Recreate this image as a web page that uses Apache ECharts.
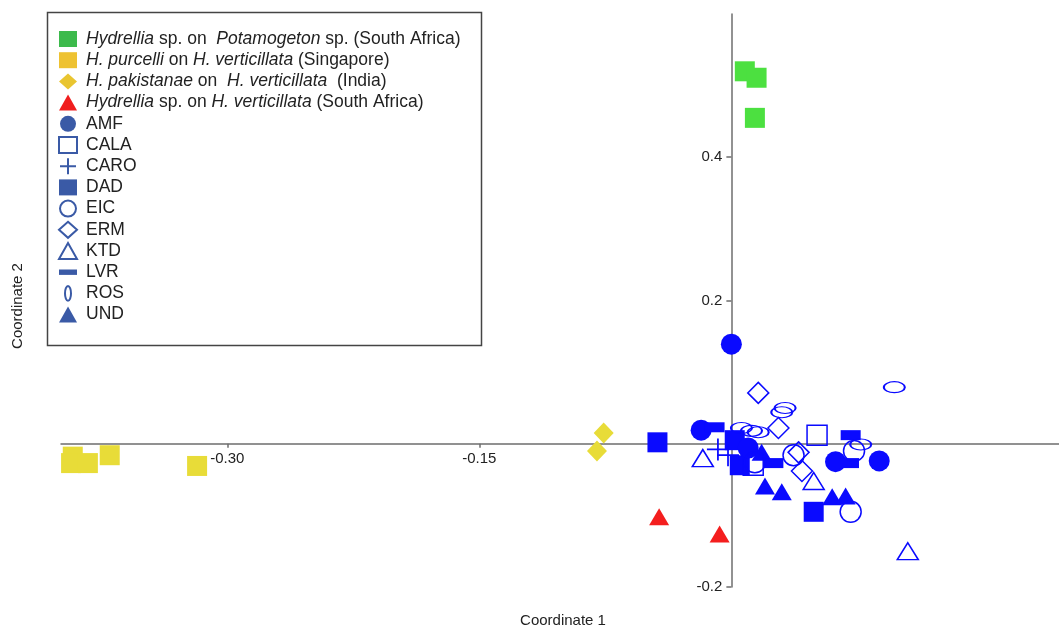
<!DOCTYPE html>
<html>
<head>
<meta charset="utf-8">
<script src="https://cdn.jsdelivr.net/npm/echarts@6/dist/echarts.min.js"></script>
<style>
html,body{margin:0;padding:0;background:#fff;}
#chart{width:1059px;height:629px;}
</style>
</head>
<body>
<div id="chart"></div>
<script>
// ---- data (Coordinate 1, Coordinate 2) ----
const greenPotamogeton = [[0.008,0.520],[0.015,0.511],[0.014,0.455]];
const yellowPurcelli = [[-0.392,-0.018],[-0.393,-0.027],[-0.383,-0.027],[-0.370,-0.016],[-0.318,-0.031]];
const yellowPakistanae = [[-0.076,0.015],[-0.080,-0.010]];
const redSouthAfrica = [[-0.043,-0.102],[-0.007,-0.126]];
const AMF = [[0.000,0.139],[-0.018,0.019],[0.062,-0.025],[0.088,-0.024],[0.010,-0.006]];
const CALA = [[0.051,0.012],[0.013,-0.030]];
const CARO = [[-0.008,-0.008],[-0.002,-0.016]];
const DAD = [[-0.044,0.002],[0.049,-0.095],[0.002,0.005],[0.005,-0.030]];
const EIC = [[0.073,-0.010],[0.037,-0.016],[0.071,-0.095],[0.014,-0.026]];
const ERM = [[0.016,0.071],[0.028,0.022],[0.040,-0.012],[0.042,-0.038]];
const KTD = [[-0.017,-0.020],[0.049,-0.052],[0.105,-0.150]];
const LVR = [[-0.010,0.023],[0.025,-0.027],[0.071,0.012],[0.070,-0.027]];
const ROS = [[0.097,0.079],[0.032,0.050],[0.030,0.044],[0.077,-0.001],[0.006,0.022],[0.012,0.018],[0.016,0.016]];
const UND = [[0.020,-0.059],[0.030,-0.067],[0.060,-0.074],[0.068,-0.073],[0.018,-0.012]];
const xTickValues = [-0.30, -0.15];
const yTickValues = [-0.2, 0.2, 0.4];
const xAxisTitle = 'Coordinate 1';
const yAxisTitle = 'Coordinate 2';

const N1 = 'Hydrellia sp. on Potamogeton sp. (South Africa)';
const N2 = 'H. purcelli on H. verticillata (Singapore)';
const N3 = 'H. pakistanae on H. verticillata (India)';
const N4 = 'Hydrellia sp. on H. verticillata (South Africa)';
const legendRich = {};
legendRich[N1] = '{i|Hydrellia} sp. on  {i|Potamogeton} sp. (South Africa)';
legendRich[N2] = '{i|H. purcelli} on {i|H. verticillata} (Singapore)';
legendRich[N3] = '{i|H. pakistanae} on  {i|H. verticillata}  (India)';
legendRich[N4] = '{i|Hydrellia} sp. on {i|H. verticillata} (South Africa)';

const FONT = "'Liberation Sans', Arial, sans-serif";
const BLUE = '#0a0aff';
const LBLUE = '#3a5aa6';
const PLUS = 'path://M9.2,0h1.6v9.2h9.2v1.6h-9.2v9.2h-1.6v-9.2h-9.2v-1.6h9.2z';
const ELLIPSE_H = 'path://M0,5a10,5 0 1,0 20,0a10,5 0 1,0 -20,0z';
const LEG_PLUS = 'path://M0,0M16,16M7,0h2v7h7v2h-7v7h-2v-7h-7v-2h7z';
const LEG_BAR = 'path://M0,0M20,16M0,5h20v6h-20z';
const LEG_ELL = 'path://M0,0M18,16M6,8a3,7.3 0 1,0 6,0a3,7.3 0 1,0 -6,0z';

const hollow = {color: 'transparent', borderColor: BLUE, borderWidth: 1.5, opacity: 1};
const legHollow = {color: 'transparent', borderColor: LBLUE, borderWidth: 2};
const legFilled = {color: LBLUE, borderWidth: 0};

function sc(name, data, symbol, size, itemStyle, z) {
  return {type: 'scatter', name: name, data: data, symbol: symbol, symbolSize: size,
          itemStyle: Object.assign({opacity: 1}, itemStyle), z: z || 2,
          emphasis: {disabled: true}, animation: false};
}

const series = [
  sc(N1, greenPotamogeton, 'rect', 20, {color: '#4ce040'}),
  sc(N2, yellowPurcelli, 'rect', 20, {color: '#e8dc38'}),
  sc(N3, yellowPakistanae, 'diamond', [20, 21], {color: '#e8dc38'}),
  sc(N4, redSouthAfrica, 'triangle', [20, 17], {color: '#f41e1e'}),
  sc('DAD', DAD, 'rect', 20, {color: BLUE}),
  sc('AMF', AMF, 'circle', 21, {color: BLUE}),
  sc('UND', UND, 'triangle', [20, 17], {color: BLUE}),
  sc('LVR', LVR, 'rect', [20, 10], {color: BLUE}),
  sc('CARO', CARO, PLUS, 22, {color: BLUE}),
  sc('CALA', CALA, 'rect', 20, hollow, 3),
  sc('EIC', EIC, 'circle', 21, hollow, 3),
  sc('ERM', ERM, 'diamond', 21, hollow, 3),
  sc('KTD', KTD, 'triangle', [21, 17], hollow, 3),
  sc('ROS', ROS, ELLIPSE_H, [21, 11], hollow, 3)
];

const legendData = [
  {name: N1, icon: 'rect', itemStyle: {color: '#3cba4c', borderWidth: 0}},
  {name: N2, icon: 'rect', itemStyle: {color: '#eec232', borderWidth: 0}},
  {name: N3, icon: 'diamond', itemStyle: {color: '#e9c530', borderWidth: 0}},
  {name: N4, icon: 'triangle', itemStyle: {color: '#f01e1e', borderWidth: 0}},
  {name: 'AMF', icon: 'circle', itemStyle: legFilled},
  {name: 'CALA', icon: 'rect', itemStyle: legHollow},
  {name: 'CARO', icon: LEG_PLUS, itemStyle: legFilled},
  {name: 'DAD', icon: 'rect', itemStyle: legFilled},
  {name: 'EIC', icon: 'circle', itemStyle: legHollow},
  {name: 'ERM', icon: 'diamond', itemStyle: legHollow},
  {name: 'KTD', icon: 'triangle', itemStyle: legHollow},
  {name: 'LVR', icon: LEG_BAR, itemStyle: legFilled},
  {name: 'ROS', icon: LEG_ELL, itemStyle: legHollow},
  {name: 'UND', icon: 'triangle', itemStyle: legFilled}
];

// grid geometry (pixels) and axis ranges
const GL = 61, GT = 14, GW = 998, GH = 573;
const XMIN = -0.399, XMAX = 0.195, YMIN = -0.2, YMAX = 0.6;
const xZeroOffset = GW * (0 - XMIN) / (XMAX - XMIN);   // distance of x=0 from left edge
const yZeroOffset = GH * (0 - YMIN) / (YMAX - YMIN);   // distance of y=0 from bottom edge

const chart = echarts.init(document.getElementById('chart'), null, {renderer: 'canvas'});
chart.setOption({
  animation: false,
  backgroundColor: '#fff',
  textStyle: {fontFamily: FONT},
  grid: {left: GL, top: GT, width: GW, height: GH, containLabel: false},
  xAxis: {
    type: 'value', min: XMIN, max: XMAX, position: 'bottom', offset: -yZeroOffset,
    splitLine: {show: false},
    axisLine: {onZero: false, lineStyle: {color: '#6e6e6e', width: 1.5}},
    axisTick: {show: true, length: 4, customValues: xTickValues, lineStyle: {color: '#6e6e6e', width: 1.5}},
    axisLabel: {customValues: xTickValues, formatter: v => v.toFixed(2), fontSize: 15, color: '#222', margin: 8, fontFamily: FONT}
  },
  yAxis: {
    type: 'value', min: YMIN, max: YMAX, position: 'left', offset: -xZeroOffset,
    splitLine: {show: false},
    axisLine: {onZero: false, lineStyle: {color: '#6e6e6e', width: 1.5}},
    axisTick: {show: true, length: 5, customValues: yTickValues, lineStyle: {color: '#6e6e6e', width: 1.5}},
    axisLabel: {customValues: yTickValues, formatter: v => v.toFixed(1), fontSize: 15, color: '#222', margin: 9, fontFamily: FONT}
  },
  legend: {
    orient: 'vertical', left: 58, top: 30, padding: 0,
    itemWidth: 18, itemHeight: 16, itemGap: 3.2,
    selectedMode: false,
    data: legendData,
    formatter: name => legendRich[name] || name,
    textStyle: {fontSize: 17.5, lineHeight: 18, color: '#222', fontFamily: FONT, padding: [0, 0, 0, 4],
      rich: {i: {fontStyle: 'italic', fontSize: 17.5, lineHeight: 18, color: '#222', fontFamily: FONT}}}
  },
  graphic: [
    {type: 'rect', left: 45, top: 10, shape: {width: 434, height: 333},
     style: {fill: 'none', stroke: '#444', lineWidth: 1.5}, silent: true, z: 0},
    {type: 'text', x: 563, y: 621,
     style: {text: xAxisTitle, font: '15px ' + FONT, fill: '#222', align: 'center', verticalAlign: 'middle'}, silent: true},
    {type: 'text', x: 18, y: 306, rotation: Math.PI / 2,
     style: {text: yAxisTitle, font: '15px ' + FONT, fill: '#222', align: 'center', verticalAlign: 'middle'}, silent: true}
  ],
  series: series
});
</script>
</body>
</html>
